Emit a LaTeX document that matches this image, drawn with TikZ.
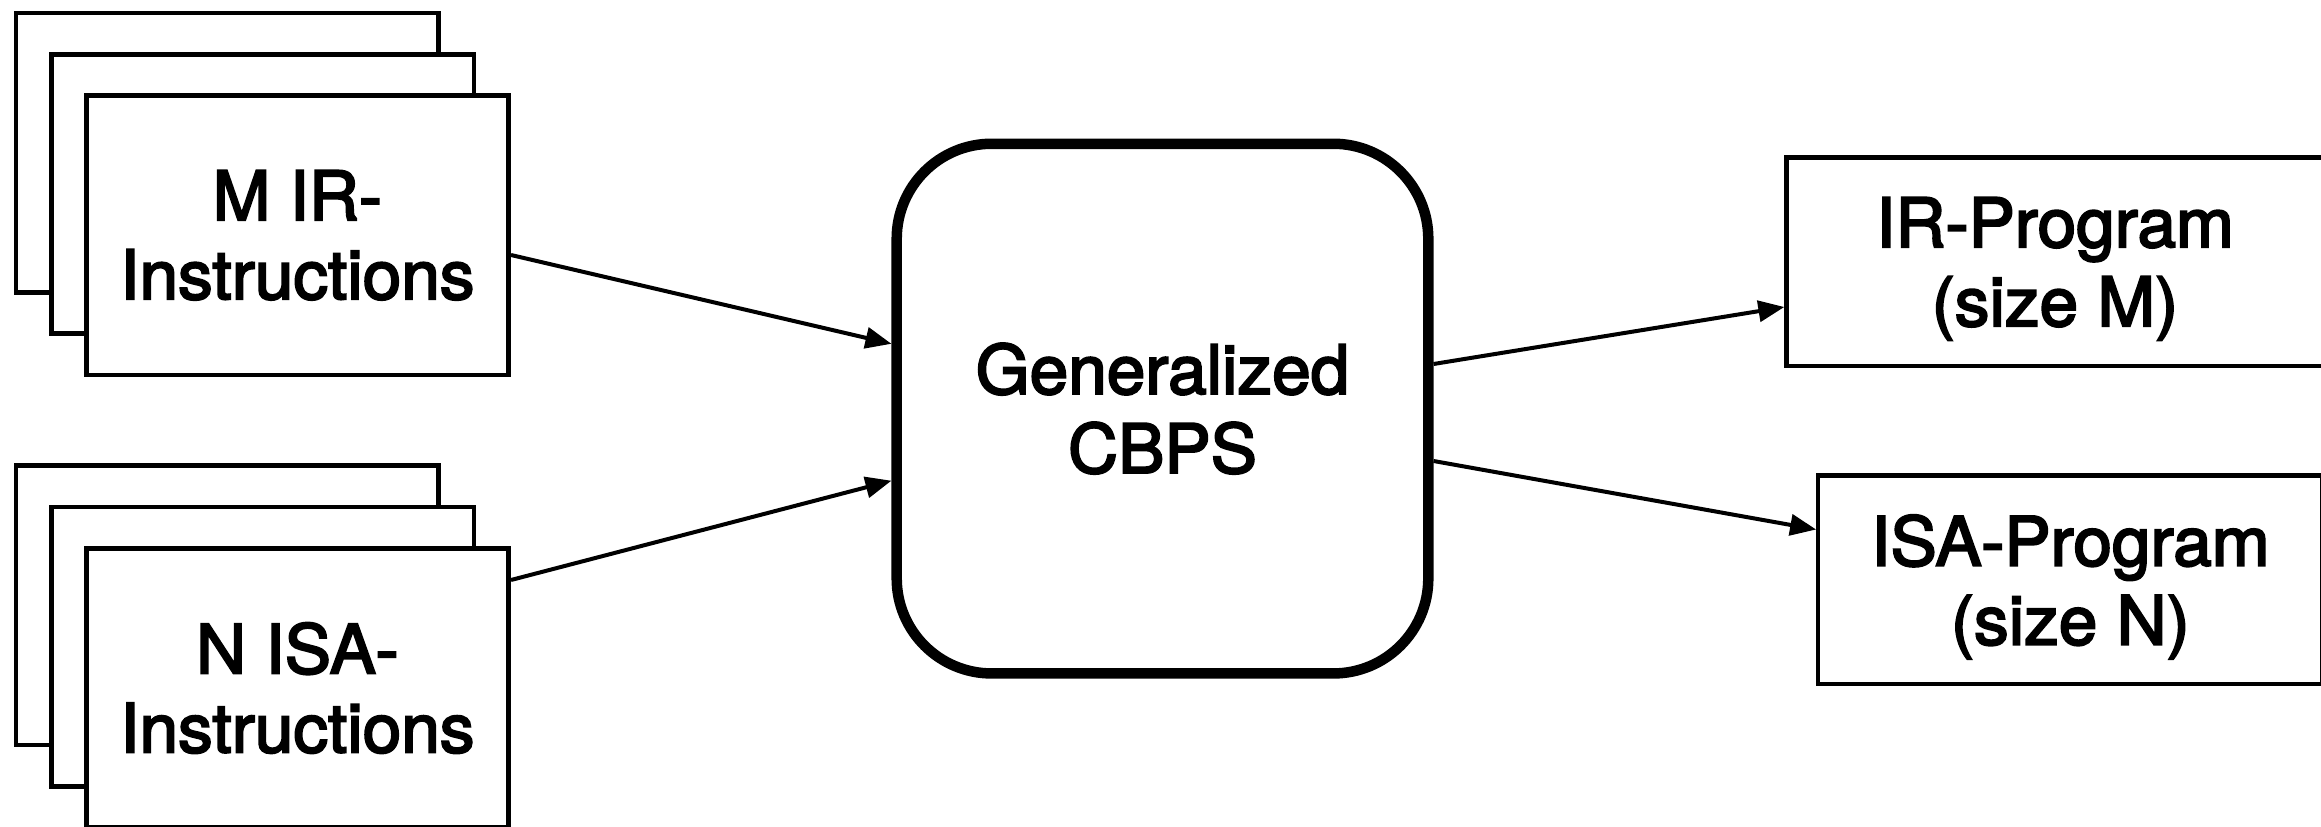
\documentclass[tikz,border=0pt]{standalone}
\usepackage{fontspec}
\setmainfont[FakeStretch=1.02, FakeBold=3]{TeX Gyre Heros}
\usetikzlibrary{arrows.meta}

\tikzset{
  labelfont/.style={font=\fontsize{68}{79}\selectfont},
  card/.style={draw=black, fill=white, line width=4.7pt, inner sep=0pt,
    minimum width=422.5pt, minimum height=279.3pt, align=center, labelfont},
  engine/.style={draw=black, fill=white, line width=10.5pt, rounded corners=95pt,
    inner sep=0pt, minimum width=531.6pt, minimum height=529.7pt, align=center,
    labelfont},
  outbox/.style={draw=black, fill=white, line width=4.3pt, inner sep=0pt,
    minimum height=208.5pt, align=center, text depth=0pt, labelfont},
  flow/.style={line width=4pt, -{Triangle[length=26pt,width=21pt]}}
}

\begin{document}
\begin{tikzpicture}[x=1pt, y=-1pt]
  \useasboundingbox (0,0) rectangle (2321,827);

  % stack of IR instructions
  \node[card] (irback)  at (227.3,152.5) {};
  \node[card] (irmid)   at (262.8,193.8) {};
  \node[card] (irfront) at (297.4,235.3) {M IR-\\Instructions};

  % stack of ISA instructions
  \node[card] (isaback)  at (227.3,605.2) {};
  \node[card] (isamid)   at (262.8,646.5) {};
  \node[card] (isafront) at (297.4,688) {N ISA-\\Instructions};

  % synthesizer
  \node[engine] (cbps) at (1162.5,408.6) {Generalized\\CBPS};

  % outputs
  \node[outbox, minimum width=537pt] (irprog) at (2055,261.7) {IR-Program\\(size M)};
  \node[outbox, minimum width=504.2pt] (isaprog) at (2070.4,579.7) {ISA-Program\\(size N)};

  % connectors
  \draw[flow] ([yshift=-19.7pt]irfront.east) -- ([yshift=64.8pt]cbps.west);
  \draw[flow] ([yshift=108pt]isafront.east) -- ([yshift=-72.1pt]cbps.west);
  \draw[flow] ([yshift=44.6pt]cbps.east) -- ([yshift=-45.3pt]irprog.west);
  \draw[flow] ([yshift=-52.4pt]cbps.east) -- ([yshift=50.2pt]isaprog.west);
\end{tikzpicture}
\end{document}
